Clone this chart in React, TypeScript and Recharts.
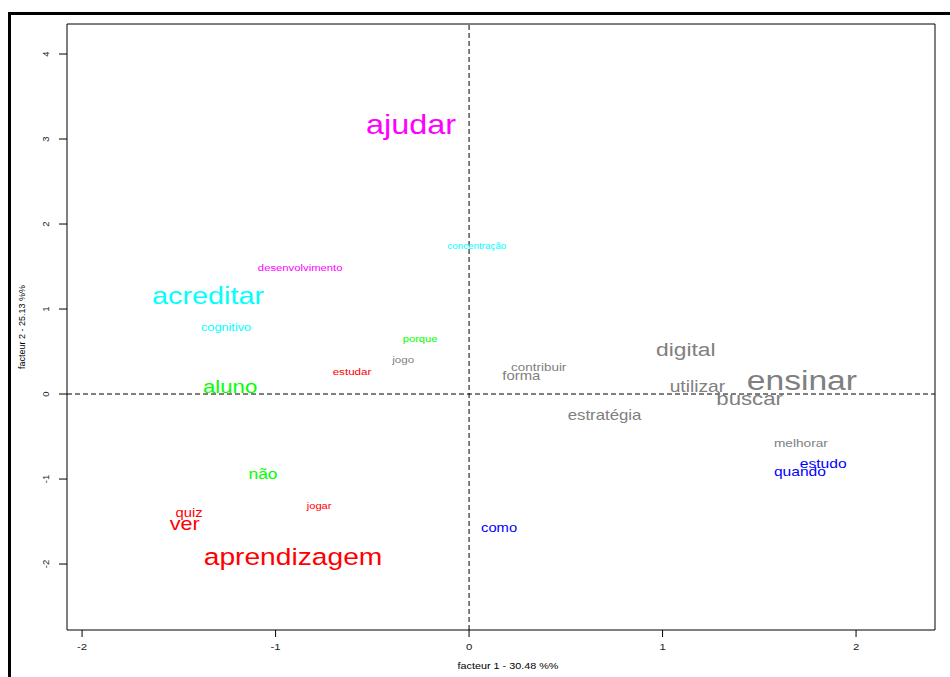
import React from 'react';
import { ScatterChart, Scatter, XAxis, YAxis, ReferenceLine, ReferenceArea } from 'recharts';

// ---- data ----
const words = ['ajudar', 'concentração', 'desenvolvimento', 'acreditar', 'cognitivo', 'porque', 'jogo', 'estudar', 'aluno', 'contribuir', 'forma', 'digital', 'utilizar', 'ensinar', 'buscar', 'estratégia', 'melhorar', 'estudo', 'quando', 'não', 'jogar', 'quiz', 'ver', 'como', 'aprendizagem'];
const factor1 = [-0.30, 0.04, -0.873, -1.349, -1.256, -0.253, -0.34, -0.605, -1.235, 0.36, 0.27, 1.12, 1.18, 1.72, 1.45, 0.70, 1.715, 1.83, 1.71, -1.065, -0.775, -1.447, -1.47, 0.155, -0.91];
const factor2 = [3.15, 1.74, 1.48, 1.14, 0.78, 0.65, 0.40, 0.26, 0.08, 0.32, 0.21, 0.51, 0.08, 0.14, -0.06, -0.25, -0.58, -0.82, -0.92, -0.95, -1.32, -1.40, -1.53, -1.58, -1.93];
const classes = [6, 5, 6, 5, 5, 3, 2, 1, 3, 2, 2, 2, 2, 2, 2, 2, 2, 4, 4, 3, 1, 1, 1, 4, 1];
const xTicks = [-2, -1, 0, 1, 2];
const yTicks = [-2, -1, 0, 1, 2, 3, 4];
const xTitle = 'facteur  1  - 30.48 %%';
const yTitle = 'facteur  2  - 25.13 %%';

// ---- styles ----
const classColors: Record<number, string> = {
  1: '#FF0000',
  2: '#808080',
  3: '#00FF00',
  4: '#0000FF',
  5: '#00FFFF',
  6: '#FF00FF',
};
const fontSizes: Record<string, number> = {
  ajudar: 27, 'concentração': 8.2, desenvolvimento: 9.4, acreditar: 24, cognitivo: 10.6,
  porque: 9.3, jogo: 9.7, estudar: 9.7, aluno: 18.5, contribuir: 11.2, forma: 12.4,
  digital: 19, utilizar: 16, ensinar: 28, buscar: 18.5, 'estratégia': 14, melhorar: 11.4,
  estudo: 13, quando: 13, 'não': 14.5, jogar: 9.3, quiz: 12.3, ver: 18, como: 12.3,
  aprendizagem: 23.5,
};
const STRETCH = 1.2;
const FONT = '"Liberation Sans", Arial, sans-serif';
const XMIN = -2.078, XMAX = 2.408, YMIN = -2.776, YMAX = 4.353;

const data = words.map((w, i) => ({ word: w, x: factor1[i], y: factor2[i], cls: classes[i] }));

const WordMark = (p: any) => {
  const { cx, cy, payload } = p;
  if (cx == null || cy == null) return null;
  const fs = fontSizes[payload.word] || 12;
  return (
    <text
      transform={`translate(${cx},${cy + fs * 0.26 + 0.8}) scale(${STRETCH},1)`}
      textAnchor="middle"
      fontFamily={FONT}
      fontSize={fs}
      fill={classColors[payload.cls]}
    >
      {payload.word}
    </text>
  );
};

const XTick = (p: any) => {
  const { x, y, payload } = p;
  return (
    <text transform={`translate(${x},${y + 11}) scale(${STRETCH},1)`} textAnchor="middle" fontFamily={FONT} fontSize={9.5} fill="#222">
      {payload.value}
    </text>
  );
};

const YTick = (p: any) => {
  const { x, y, payload } = p;
  return (
    <text transform={`translate(${x - 8},${y}) rotate(-90)`} textAnchor="middle" fontFamily={FONT} fontSize={9.5} fill="#222">
      {payload.value}
    </text>
  );
};

const XTitle = (p: any) => {
  const vb = p.viewBox || {};
  return (
    <text transform={`translate(${vb.x + vb.width / 2 + 7},${vb.y + 39}) scale(${STRETCH},1)`} textAnchor="middle" fontFamily={FONT} fontSize={9} fill="#000">
      {xTitle}
    </text>
  );
};

const YTitle = (p: any) => {
  const vb = p.viewBox || {};
  return (
    <text transform={`translate(25,${vb.y + vb.height / 2}) rotate(-90)`} textAnchor="middle" fontFamily={FONT} fontSize={9} fill="#000">
      {yTitle}
    </text>
  );
};

export default function App() {
  return (
    <div style={{ position: 'absolute', left: 0, top: 0, width: 950, height: 677, background: '#fff', overflow: 'hidden' }}>
      <div style={{ position: 'absolute', left: 8, top: 12, width: 980, height: 720, border: '3px solid #000', boxSizing: 'border-box' }} />
      <div style={{ position: 'absolute', left: 0, top: 0 }}>
        <ScatterChart width={950} height={677} margin={{ top: 24, right: 15, bottom: 0, left: 0 }}>
          <XAxis
            type="number"
            dataKey="x"
            domain={[XMIN, XMAX]}
            allowDataOverflow
            ticks={xTicks}
            axisLine={false}
            tickLine={{ stroke: '#000' }}
            tickSize={7}
            tick={<XTick />}
            height={47}
            label={<XTitle />}
          />
          <YAxis
            type="number"
            dataKey="y"
            domain={[YMIN, YMAX]}
            allowDataOverflow
            ticks={yTicks}
            axisLine={false}
            tickLine={{ stroke: '#000' }}
            tickSize={8}
            tick={<YTick />}
            width={67}
            label={<YTitle />}
          />
          <ReferenceArea x1={XMIN} x2={XMAX} y1={YMIN} y2={YMAX} fill="none" fillOpacity={0} stroke="#000" strokeWidth={1} ifOverflow="visible" />
          <ReferenceLine x={0} stroke="#000" strokeDasharray="5 3" />
          <ReferenceLine y={0} stroke="#000" strokeDasharray="5 3" />
          <Scatter data={data} isAnimationActive={false} shape={(p: any) => <WordMark {...p} />} />
        </ScatterChart>
      </div>
    </div>
  );
}
